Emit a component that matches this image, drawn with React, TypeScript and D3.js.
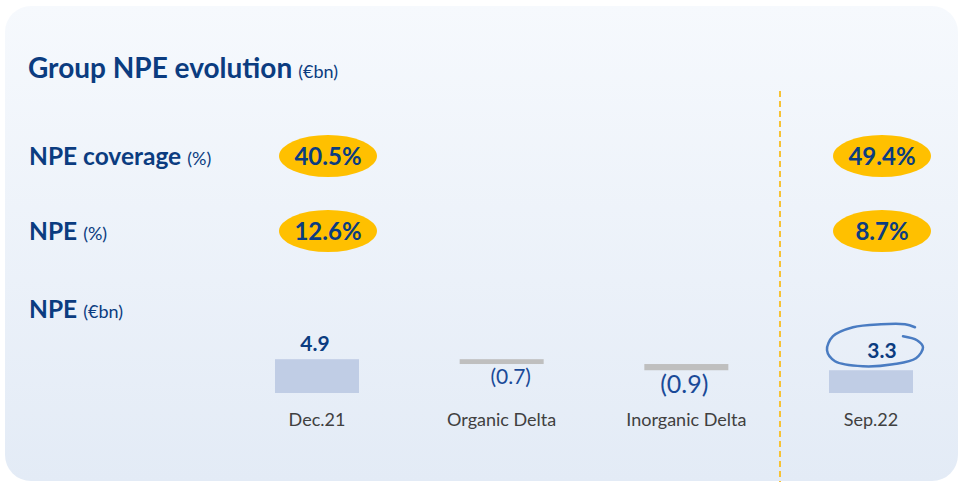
import React from "react";
import * as d3 from "d3";

const categories = ["Dec.21", "Organic Delta", "Inorganic Delta", "Sep.22"];
const npeValues = [4.9, -0.7, -0.9, 3.3];
const valueLabels = ["4.9", "(0.7)", "(0.9)", "3.3"];
const coverageLabels = ["40.5%", "", "", "49.4%"];
const npeRatioLabels = ["12.6%", "", "", "8.7%"];
const rowLabels = [
  { main: "NPE coverage", unit: "(%)" },
  { main: "NPE", unit: "(%)" },
  { main: "NPE", unit: "(€bn)" },
];

const W = 960;
const H = 482;
const FONT = "Lato, 'Open Sans', sans-serif";
const DARK_BLUE = "#0b3c80";

export default function App() {
  const x = d3.scalePoint<string>().domain(categories).range([317, 871]);
  const y = d3.scaleLinear().domain([0, 5]).range([393, 358.5]);
  const barW = 84;

  // waterfall computation
  const bars: { cat: string; y0: number; y1: number; total: boolean; label: string }[] = [];
  let running = 0;
  categories.forEach((c, i) => {
    const v = npeValues[i];
    const total = i === 0 || i === categories.length - 1;
    if (total) {
      bars.push({ cat: c, y0: 0, y1: v, total, label: valueLabels[i] });
      running = v;
    } else {
      const next = running + v;
      bars.push({ cat: c, y0: next, y1: running, total, label: valueLabels[i] });
      running = next;
    }
  });

  const rowY = [165, 240, 318];
  const ellY = [156, 231];

  // annotation loop around Sep.22 label (offsets from label centre)
  const cx = (x("Sep.22") as number) + 2;
  const cy = y(3.3) - 26;
  const loopPts: [number, number][] = [
    [30, -8], [44, -4], [50, 3], [43, 14], [20, 20], [-10, 22], [-38, 17],
    [-46, 6], [-40, -8], [-20, -17], [8, -20], [32, -20], [42, -17],
  ];
  const loop = d3
    .line<[number, number]>()
    .x((d) => cx + d[0])
    .y((d) => cy + d[1])
    .curve(d3.curveCatmullRom.alpha(0.5))(loopPts);

  return (
    <svg
      width={W}
      height={H}
      style={{ position: "absolute", left: 0, top: 0, display: "block" }}
      fontFamily={FONT}
    >
      <defs>
        <linearGradient id="bg" x1="0" y1="0" x2="0" y2="1">
          <stop offset="0%" stopColor="#f6f9fd" />
          <stop offset="100%" stopColor="#e3ebf6" />
        </linearGradient>
      </defs>
      <rect x={0} y={0} width={W} height={H} fill="#ffffff" />
      <rect x={5} y={6} width={953} height={475} rx={26} ry={26} fill="url(#bg)" />

      {/* title */}
      <text x={28} y={78} fill={DARK_BLUE}>
        <tspan fontSize={28} fontWeight={700}>Group NPE evolution</tspan>
        <tspan fontSize={18} dx={6}>(€bn)</tspan>
      </text>

      {/* row labels */}
      {rowLabels.map((r, i) => (
        <text key={i} x={29} y={rowY[i]} fill={DARK_BLUE}>
          <tspan fontSize={24.5} fontWeight={700}>{r.main}</tspan>
          <tspan fontSize={18} dx={6}>{r.unit}</tspan>
        </text>
      ))}

      {/* dashed separator */}
      <line x1={780} x2={780} y1={91} y2={H} stroke="#f7c234" strokeWidth={2} strokeDasharray="6 4" />

      {/* ellipses */}
      {[coverageLabels, npeRatioLabels].map((labels, r) =>
        labels.map((lab, i) =>
          lab ? (
            <g key={`${r}-${i}`}>
              <ellipse
                cx={(x(categories[i]) as number) + 11}
                cy={ellY[r]}
                rx={49}
                ry={21}
                fill="#ffc000"
              />
              <text
                x={(x(categories[i]) as number) + 11}
                y={ellY[r] + 9}
                textAnchor="middle"
                fontSize={24}
                fontWeight={700}
                fill={DARK_BLUE}
              >
                {lab}
              </text>
            </g>
          ) : null
        )
      )}

      {/* bars */}
      {bars.map((b, i) => {
        const xc = x(b.cat) as number;
        const top = y(b.y1);
        const bottom = y(b.y0);
        return (
          <g key={b.cat}>
            <rect
              x={xc - barW / 2}
              y={top}
              width={barW}
              height={Math.max(bottom - top, 1)}
              fill={b.total ? "#c0cde5" : "#bfbfbf"}
            />
            {b.total ? (
              <text
                x={xc + (i === 0 ? -2 : 11)}
                y={i === 0 ? top - 8 : top - 12}
                textAnchor="middle"
                fontSize={21}
                fontWeight={700}
                fill={DARK_BLUE}
              >
                {b.label}
              </text>
            ) : (
              <text
                x={xc + (i === 1 ? 9 : -2)}
                y={bottom + (i === 1 ? 20 : 23)}
                textAnchor="middle"
                fontSize={i === 1 ? 21 : 25}
                fill="#1a4a98"
              >
                {b.label}
              </text>
            )}
            <text x={xc} y={426} textAnchor="middle" fontSize={18} fill="#404040">
              {b.cat}
            </text>
          </g>
        );
      })}

      {/* hand-drawn loop */}
      <path d={loop || ""} fill="none" stroke="#4a7cc2" strokeWidth={2.5} strokeLinecap="round" />
    </svg>
  );
}
